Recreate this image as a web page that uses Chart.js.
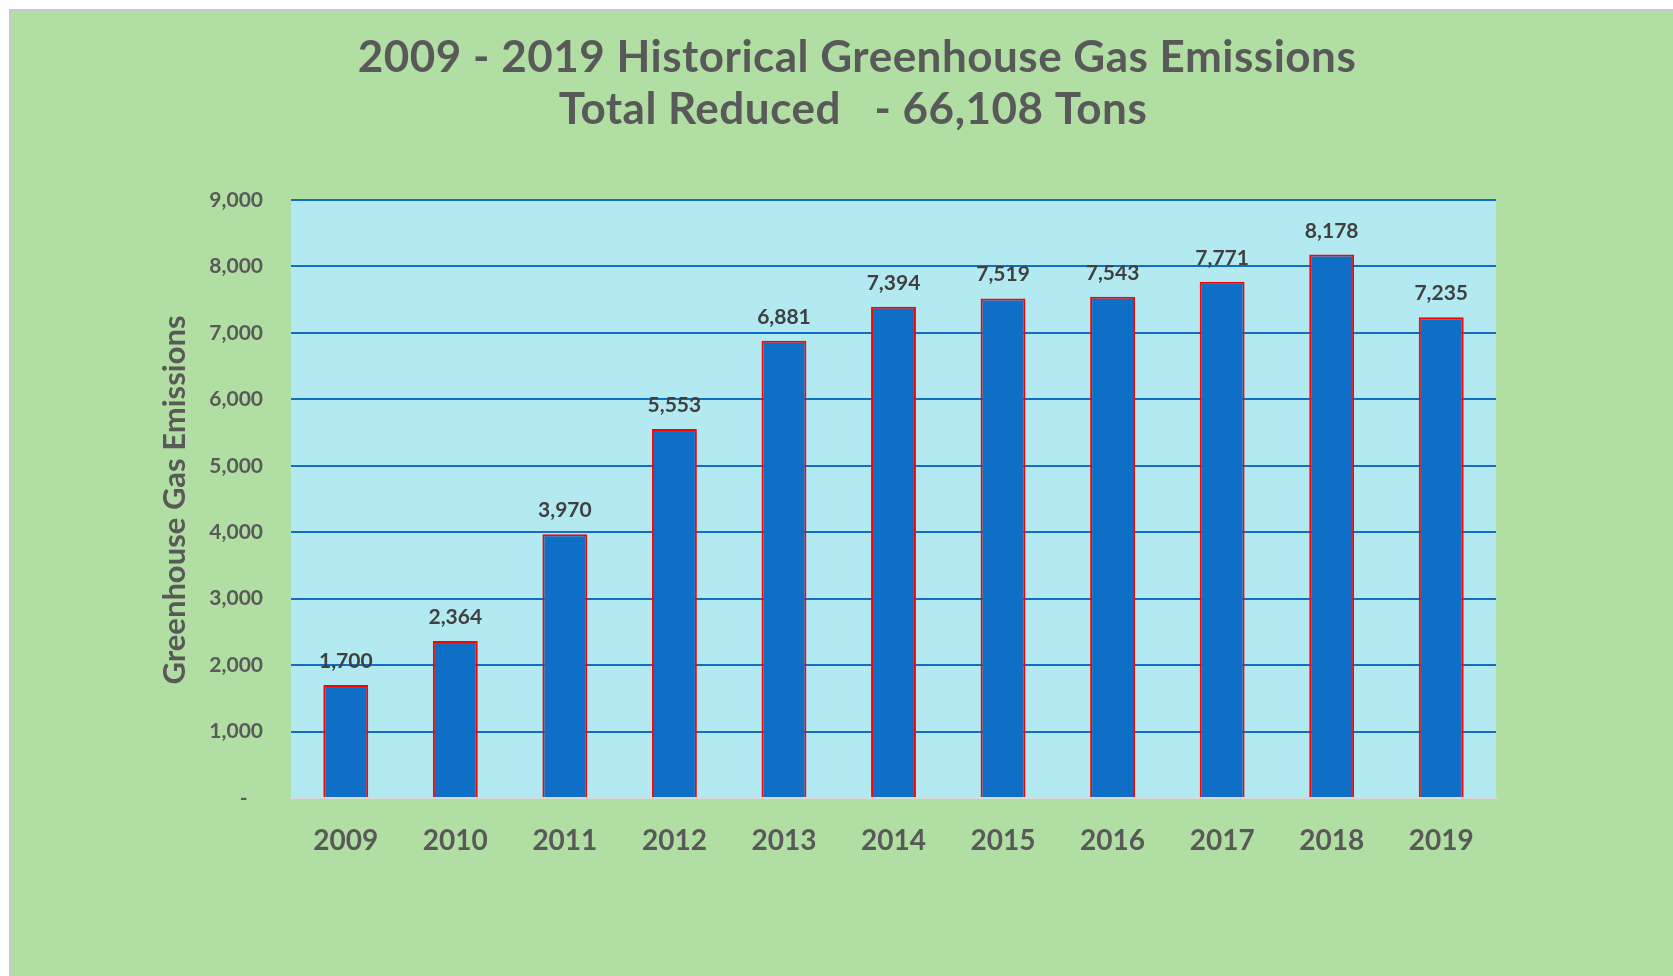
<!DOCTYPE html>
<html>
<head>
<meta charset="utf-8">
<script src="https://cdn.jsdelivr.net/npm/chart.js@4.4.1/dist/chart.umd.min.js"></script>
<style>
  html, body { margin: 0; padding: 0; background: #ffffff; }
  canvas { display: block; }
</style>
</head>
<body>
<canvas id="chart" width="1673" height="976"></canvas>
<script>
// Annual greenhouse gas emission reductions (tons)
const years = ['2009', '2010', '2011', '2012', '2013', '2014', '2015', '2016', '2017', '2018', '2019'];
const reductions = [1700, 2364, 3970, 5553, 6881, 7394, 7519, 7543, 7771, 8178, 7235];
const titleLines = ['2009 - 2019 Historical Greenhouse Gas Emissions', 'Total Reduced   - 66,108 Tons'];
const axisTitle = 'Greenhouse Gas Emissions';
const yTicks = [0, 1000, 2000, 3000, 4000, 5000, 6000, 7000, 8000, 9000];

const fmt = v => v.toLocaleString('en-US');

// Page frame: white margin, thin grey rule, green panel, light-blue plot area
const backdrop = {
  id: 'backdrop',
  beforeDraw(chart) {
    const { ctx, width, height, chartArea } = chart;
    ctx.save();
    ctx.fillStyle = '#ffffff';
    ctx.fillRect(0, 0, width, height);
    ctx.fillStyle = '#c8c8c8';
    ctx.fillRect(9, 9, width - 9, height - 9);
    ctx.fillStyle = '#b1dea3';
    ctx.fillRect(11, 11, width - 11, height - 11);
    ctx.fillStyle = '#b3eaf2';
    ctx.fillRect(chartArea.left, chartArea.top, chartArea.right - chartArea.left, chartArea.bottom - chartArea.top);
    ctx.restore();
  }
};

// Two-line heading centred on the panel, plus the rotated value-axis title
const headings = {
  id: 'headings',
  afterDraw(chart) {
    const { ctx } = chart;
    ctx.save();
    ctx.fillStyle = '#595959';
    ctx.textAlign = 'center';
    ctx.textBaseline = 'alphabetic';
    ctx.font = 'bold 44px Lato';
    ctx.letterSpacing = '0.5px';
    ctx.fillText(titleLines[0], 857, 72);
    ctx.fillText(titleLines[1], 853, 124);
    ctx.letterSpacing = '0px';
    ctx.font = 'bold 31px Lato';
    ctx.textBaseline = 'middle';
    ctx.translate(175, 500);
    ctx.rotate(-Math.PI / 2);
    ctx.fillText(axisTitle, 0, 0);
    ctx.restore();
  }
};

// Value labels above each bar
const valueLabels = {
  id: 'valueLabels',
  afterDatasetsDraw(chart) {
    const { ctx } = chart;
    const meta = chart.getDatasetMeta(0);
    ctx.save();
    ctx.font = 'bold 21px Lato';
    ctx.fillStyle = '#404040';
    ctx.textAlign = 'center';
    ctx.textBaseline = 'alphabetic';
    meta.data.forEach((bar, i) => {
      ctx.fillText(fmt(chart.data.datasets[0].data[i]), bar.x, bar.y - 17);
    });
    ctx.restore();
  }
};

Chart.defaults.font.family = 'Lato';

new Chart(document.getElementById('chart'), {
  type: 'bar',
  data: {
    labels: years,
    datasets: [{
      data: reductions,
      backgroundColor: '#0f6fc6',
      borderColor: '#ff0000',
      borderWidth: 2,
      borderSkipped: 'start',
      categoryPercentage: 1,
      barPercentage: 0.41
    }]
  },
  options: {
    responsive: false,
    animation: false,
    events: [],
    layout: { padding: { left: 0, right: 177, top: 0, bottom: 0 } },
    plugins: {
      legend: { display: false },
      tooltip: { enabled: false },
      title: {
        // reserves the heading band; the text itself is painted by the headings plugin
        display: true,
        text: titleLines,
        color: 'rgba(0,0,0,0)',
        font: { size: 42, weight: 'bold', lineHeight: 52 / 42 },
        padding: { top: 31, bottom: 65 }
      }
    },
    scales: {
      x: {
        grid: { display: false, drawTicks: false },
        border: { display: true, color: '#d9d9d9', width: 2 },
        ticks: { color: '#595959', font: { size: 28, weight: 'bold' }, padding: 26 },
        afterFit(scale) { scale.height = 178; }
      },
      y: {
        min: 0,
        max: 9000,
        afterBuildTicks(scale) { scale.ticks = yTicks.map(v => ({ value: v })); },
        grid: {
          drawTicks: false,
          lineWidth: 2,
          color: ctx => (ctx.tick && ctx.tick.value === 0) ? 'rgba(0,0,0,0)' : '#0f6fc6'
        },
        border: { display: false },
        ticks: {
          color: '#595959',
          font: { size: 21, weight: 'bold' },
          padding: 28,
          callback: v => v === 0 ? '-   ' : fmt(v)
        },
        afterFit(scale) { scale.width = 291; }
      }
    }
  },
  plugins: [backdrop, headings, valueLabels]
});
</script>
</body>
</html>
